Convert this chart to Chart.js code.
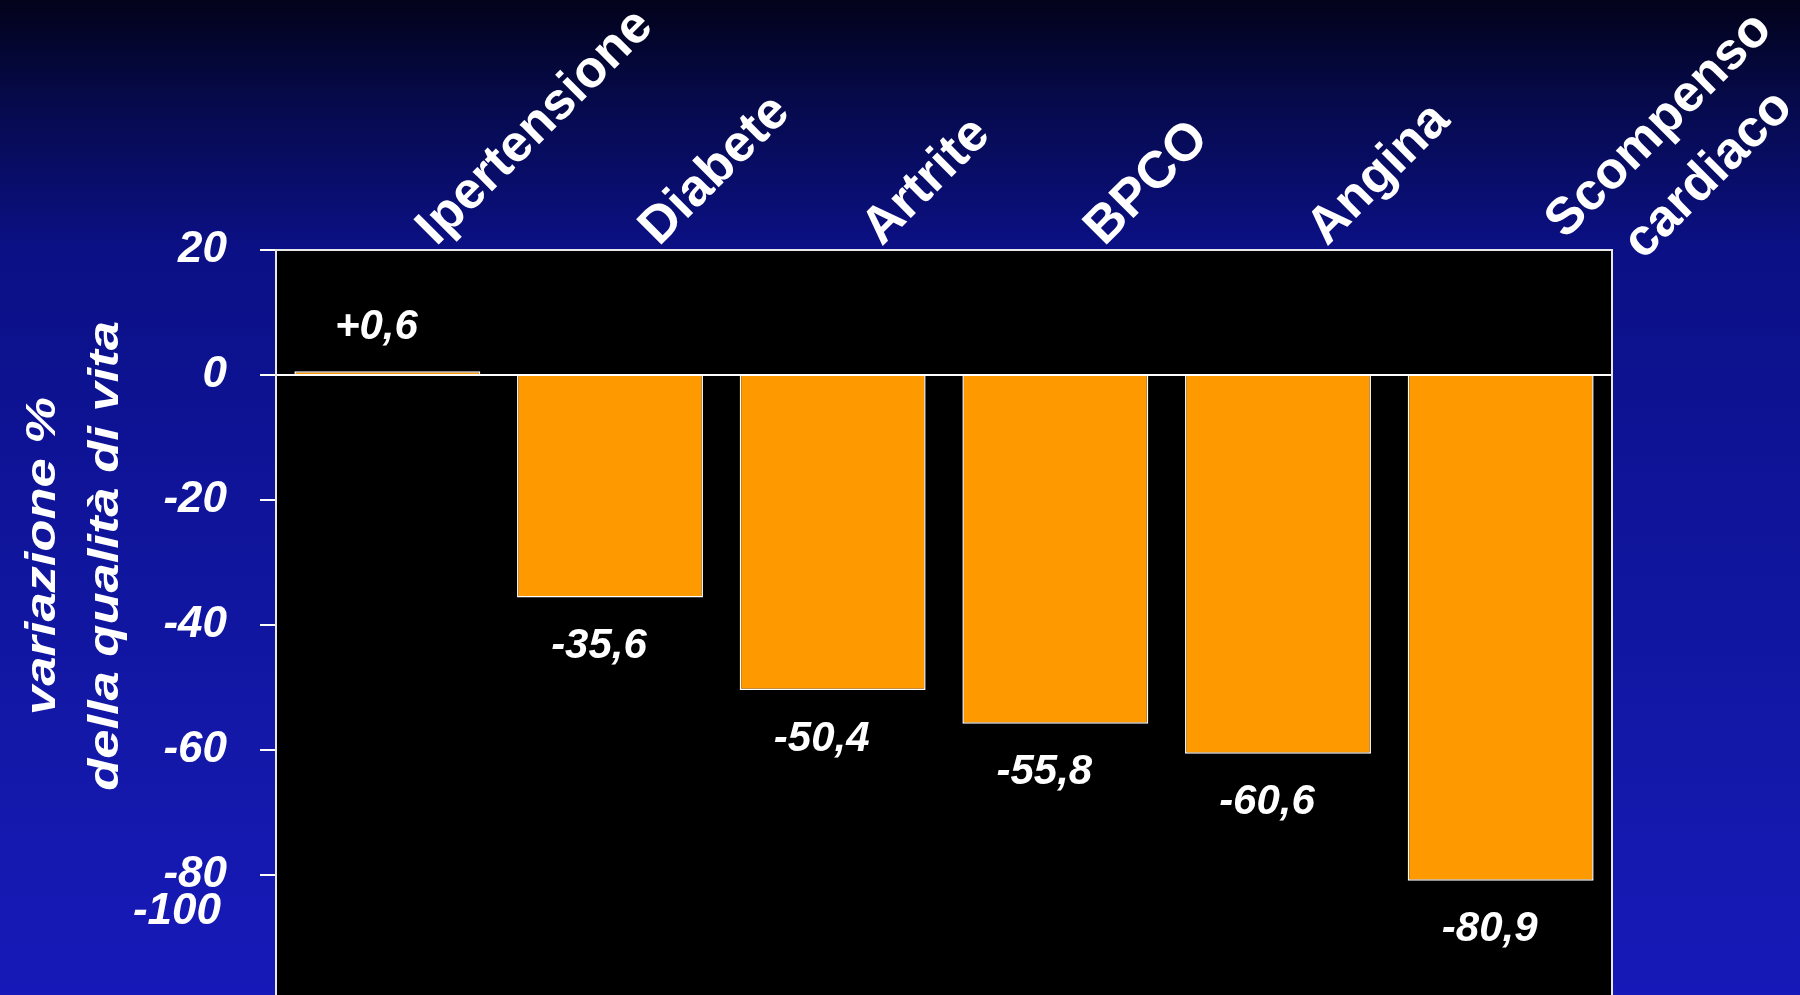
<!DOCTYPE html>
<html>
<head>
<meta charset="utf-8">
<title>Qualità di vita</title>
<script src="https://cdn.jsdelivr.net/npm/chart.js@4.4.1/dist/chart.umd.min.js"></script>
<style>
  html, body { margin: 0; padding: 0; width: 1800px; height: 995px; overflow: hidden; }
  body {
    background: linear-gradient(to bottom,
      #02021a 0%, #060a4a 10%, #0b1085 25%, #0e1396 45%, #1318a8 75%, #1719b8 100%);
  }
  #chart { position: absolute; left: 0; top: 0; }
</style>
</head>
<body>
<canvas id="chart" width="1800" height="1000"></canvas>
<script>
  "use strict";

  const categories = ["Ipertensione", "Diabete", "Artrite", "BPCO", "Angina", ["Scompenso", "cardiaco"]];
  const qualityChange = [0.6, -35.6, -50.4, -55.8, -60.6, -80.9];
  const yMin = -100;
  const yMax = 20;
  const yStep = 20;

  const FONT = '"Liberation Sans", Arial, sans-serif';
  const ORANGE = "#ff9900";

  const fmt = (v) => (v > 0 ? "+" : "") + v.toFixed(1).replace(".", ",");

  // black plot area behind everything, light frame on top
  const plotFrame = {
    id: "plotFrame",
    beforeDraw(chart) {
      const { ctx, chartArea: a } = chart;
      ctx.save();
      ctx.fillStyle = "#000";
      ctx.fillRect(a.left, a.top, a.right - a.left, a.bottom - a.top);
      ctx.restore();
    },
    afterDraw(chart) {
      const { ctx, chartArea: a } = chart;
      ctx.save();
      ctx.strokeStyle = "#e8e8e8";
      ctx.lineWidth = 2;
      ctx.strokeRect(a.left, a.top, a.right - a.left, a.bottom - a.top);
      ctx.restore();
    },
  };

  // value printed above / below each bar
  const barValues = {
    id: "barValues",
    afterDatasetsDraw(chart) {
      const { ctx } = chart;
      const meta = chart.getDatasetMeta(0);
      ctx.save();
      ctx.font = "italic bold 42px " + FONT;
      ctx.fillStyle = "#fff";
      ctx.textAlign = "center";
      ctx.textBaseline = "middle";
      meta.data.forEach((bar, i) => {
        const v = qualityChange[i];
        const y = v >= 0 ? bar.y - 44 : bar.y + 49;
        ctx.fillText(fmt(v), bar.x - 11, y);
      });
      ctx.restore();
    },
  };

  // slanted category names above the plot, multi-line ones centred
  const categoryLabels = {
    id: "categoryLabels",
    afterDraw(chart) {
      const { ctx } = chart;
      const xs = chart.scales.x;
      const lineH = 70;
      ctx.save();
      ctx.font = "bold 52px " + FONT;
      ctx.fillStyle = "#fff";
      ctx.textAlign = "center";
      ctx.textBaseline = "alphabetic";
      categories.forEach((label, i) => {
        const lines = [].concat(label);
        const n = lines.length;
        const widest = Math.max(...lines.map((l) => ctx.measureText(l).width));
        ctx.save();
        ctx.translate(xs.getPixelForTick(i) + 49, 247);
        ctx.rotate(-Math.PI / 4);
        lines.forEach((line, k) => {
          ctx.fillText(line, (n - 1) * 16 + widest / 2, k * lineH + (n - 1) * 6);
        });
        ctx.restore();
      });
      ctx.restore();
    },
  };

  // axis title (stretched along its reading direction) and the bottom tick label
  const axisExtras = {
    id: "axisExtras",
    afterDraw(chart) {
      const { ctx } = chart;
      const ys = chart.scales.y;

      ctx.save();
      ctx.fillStyle = "#fff";
      ctx.font = "italic bold 42px " + FONT;
      ctx.textAlign = "center";
      ctx.textBaseline = "alphabetic";
      ctx.translate(0, 556);
      ctx.rotate(-Math.PI / 2);
      ctx.scale(1.25, 1);
      ctx.fillText("variazione %", 0, 55);
      ctx.fillText("della qualità di vita", 0, 118);
      ctx.restore();

      const last = ys.ticks[0].value;
      ctx.save();
      ctx.fillStyle = "#fff";
      ctx.font = "italic bold 44px " + FONT;
      ctx.textAlign = "right";
      ctx.textBaseline = "middle";
      ctx.fillText(String(last), ys.right - 16 - 33 - 6, ys.getPixelForValue(last + yStep) + 37);
      ctx.restore();
    },
  };

  new Chart(document.getElementById("chart"), {
    type: "bar",
    data: {
      labels: categories,
      datasets: [
        {
          data: qualityChange,
          backgroundColor: ORANGE,
          borderColor: "#ffffff",
          borderWidth: 1.5,
          barPercentage: 1,
          categoryPercentage: 0.835,
        },
      ],
    },
    options: {
      responsive: false,
      animation: false,
      devicePixelRatio: 1,
      layout: { padding: { top: 0, left: 0, right: 188, bottom: 0 } },
      plugins: {
        legend: { display: false },
        tooltip: { enabled: false },
      },
      scales: {
        x: {
          position: "top",
          grid: { display: false },
          border: { display: false },
          ticks: { display: false },
          afterFit: (scale) => { scale.height = 250; },
        },
        y: {
          min: yMin,
          max: yMax,
          border: { display: false },
          grid: {
            color: (c) => (c.tick && c.tick.value === 0 ? "#ffffff" : "transparent"),
            tickColor: "#ffffff",
            lineWidth: 2,
            tickLength: 16,
          },
          ticks: {
            stepSize: yStep,
            padding: 33,
            color: "#ffffff",
            font: { family: FONT, size: 44, style: "italic", weight: "bold" },
            callback: (v) => (v === yMin ? "" : String(v)),
          },
          afterFit: (scale) => {
            scale.width = 276;
            scale.paddingTop = 0;
            scale.paddingBottom = 0;
          },
        },
      },
    },
    plugins: [plotFrame, barValues, categoryLabels, axisExtras],
  });
</script>
</body>
</html>
